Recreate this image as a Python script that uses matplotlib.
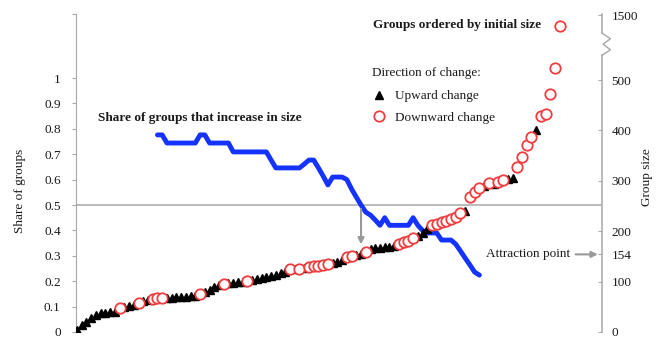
import numpy as np
import matplotlib
matplotlib.use("Agg")
import matplotlib.pyplot as plt
from matplotlib.lines import Line2D

plt.rcParams['font.family'] = ['Liberation Serif', 'DejaVu Serif']

# groups ordered by initial size; U = upward change, D = downward change
group_size = [4, 14, 20, 28, 34, 38, 38, 39, 40,
              48, 50, 52, 54, 58, 61, 63, 66, 67, 68,
              68, 68, 69, 69, 70, 71, 72, 75, 79, 84, 89, 93, 96,
              97, 98, 99, 100, 101, 103, 106, 108, 110, 112, 114, 117, 120,
              125, 125, 126, 127, 128, 130, 131, 132, 134, 136, 139, 143,
              149, 151, 153, 155, 159, 164, 166, 167, 168, 169, 171,
              175, 178, 181, 186, 190, 196, 204,
              212, 215, 218, 221, 224, 228, 236, 241,
              268, 278, 286, 290, 296, 293, 298, 302, 304, 306,
              328, 347, 371, 387, 401, 429, 433, 472, 524, 1240]
direction = ("UUUUUUUUU" "DUUUDUUDDD" "UUUUUUUDUUUUDUUUUD"
             "UUUUUUUUDUDUDDDDDUUUDDUUD" "UUUUUUDDDDUUU"
             "DDDDDDDU" "DDDUDUDDUU" "DDDDUDDDDD")

# share of groups that increase in size (starts at group 17)
share_start = 17
share_increase = [0.776, 0.776, 0.744, 0.744, 0.744, 0.744, 0.744, 0.744, 0.744,
                  0.776, 0.776, 0.744, 0.744, 0.744, 0.744, 0.744,
                  0.709, 0.709, 0.709, 0.709, 0.709, 0.709, 0.709, 0.709,
                  0.677, 0.646, 0.646, 0.646, 0.646, 0.646, 0.646,
                  0.661, 0.677, 0.677, 0.646, 0.614, 0.579, 0.61, 0.61, 0.61,
                  0.6, 0.563, 0.531, 0.5, 0.472, 0.46, 0.441, 0.42, 0.45,
                  0.42, 0.42, 0.42, 0.42, 0.42, 0.45, 0.42, 0.4, 0.39, 0.39, 0.39,
                  0.362, 0.362, 0.362, 0.346, 0.319, 0.291, 0.264, 0.236, 0.224]

left_ticks = [0, 0.1, 0.2, 0.3, 0.4, 0.5, 0.6, 0.7, 0.8, 0.9, 1]
left_labels = ['0', '0.1', '0.2', '0.3', '0.4', '0.5', '0.6', '0.7', '0.8', '0.9', '1']
right_ticks = [0, 100, 154, 200, 300, 400, 500, 1500]
attraction = 154

# broken right axis: linear up to 550, compressed above
BRK = 550.0
K = (629 - 550) / (1500 - 550.0)


def fwd(v):
    v = np.asarray(v, float)
    return np.where(v <= BRK, v, BRK + (v - BRK) * K)


def inv(p):
    p = np.asarray(p, float)
    return np.where(p <= BRK, p, BRK + (p - BRK) / K)


gray = '#a8a8a8'
txt = '#1a1a1a'
fs = 9.5

fig = plt.figure(figsize=(6.6, 3.45), dpi=100)
ax = fig.add_axes([76 / 660, 13 / 345, 526 / 660, 318 / 345])
ax2 = ax.twinx()

idx = np.arange(len(group_size))
size = np.array(group_size, float)
up = np.array([c == 'U' for c in direction])

ax.set_xlim(-0.21, 110.9)
ax.set_ylim(0, 1.252)
ax2.set_yscale('function', functions=(fwd, inv))
ax2.set_ylim(0, float(inv(631)))

# 0.5 reference line and share line
ax.axhline(0.5, color=gray, lw=1.1, zorder=1)
sx = np.arange(share_start, share_start + len(share_increase))
ax.plot(sx, share_increase, color='#1433ff', lw=3.5, solid_joinstyle='round',
        solid_capstyle='round', zorder=2)

# groups
ax2.plot(idx[up], size[up], linestyle='none', marker='^', color='black',
         markersize=6.3, zorder=3)
ax2.plot(idx[~up], size[~up], linestyle='none', marker='o', markerfacecolor='white',
         markeredgecolor='#f03c3c', markeredgewidth=1.3, markersize=7.5, zorder=4)

# spines
for s in ['top', 'right', 'bottom']:
    ax.spines[s].set_visible(False)
for s in ['top', 'left', 'bottom', 'right']:
    ax2.spines[s].set_visible(False)
ax.spines['left'].set_color(gray)
ax.set_xticks([])
ax.set_yticks(left_ticks + [1.252])
ax.set_yticklabels(left_labels + [''])
ax.tick_params(axis='y', direction='out', length=3, color=gray, pad=8,
               labelsize=fs, labelcolor=txt)

ax2.set_yticks(right_ticks)
ax2.set_yticklabels([str(t) for t in right_ticks])
ax2.yaxis.set_minor_locator(plt.NullLocator())
ax2.tick_params(axis='y', direction='in', length=3, color=gray, pad=7,
                labelsize=fs, labelcolor=txt)

# right spine drawn by hand with a break zigzag
y_lo, y_hi = 549 / 631, 593 / 631
h = (y_hi - y_lo) / 4
zx = [1.0, 1.016, 1.002, 1.016, 1.0]
zy = [y_lo, y_lo + h, y_lo + 2 * h, y_lo + 3 * h, y_hi]
ax2.plot([1, 1], [0, y_lo], color=gray, lw=1.1, transform=ax2.transAxes, clip_on=False)
ax2.plot(zx, zy, color=gray, lw=1.0, transform=ax2.transAxes, clip_on=False)
ax2.plot([1, 1], [y_hi, 1], color=gray, lw=1.1, transform=ax2.transAxes, clip_on=False)

# annotations
ax.annotate('', xy=(60, 0.345), xytext=(60, 0.485),
            arrowprops=dict(arrowstyle='-|>', color='#999999', lw=1.5,
                            mutation_scale=9, shrinkA=0, shrinkB=0))
ax2.annotate('Attraction point', xy=(0.992, attraction),
             xycoords=('axes fraction', 'data'), xytext=(-20, 0),
             textcoords='offset points', ha='right', va='center', fontsize=fs,
             color=txt,
             arrowprops=dict(arrowstyle='-|>', color='#999999', lw=1.5,
                             mutation_scale=9, shrinkA=2, shrinkB=0))

fig.text(98 / 660, 1 - 118 / 345, 'Share of groups that increase in size',
         fontsize=fs, fontweight='bold', color=txt, va='center', ha='left')
fig.text(373 / 660, 1 - 25 / 345, 'Groups ordered by initial size',
         fontsize=fs, fontweight='bold', color=txt, va='center', ha='left')
fig.text(20 / 660, 1 - 191 / 345, 'Share of groups', rotation=90,
         fontsize=fs, color=txt, va='center', ha='center')
fig.text(647 / 660, 1 - 177 / 345, 'Group size', rotation=90,
         fontsize=fs, color=txt, va='center', ha='center')

handles = [Line2D([], [], linestyle='none', marker='^', color='black', markersize=6.3),
           Line2D([], [], linestyle='none', marker='o', markerfacecolor='white',
                  markeredgecolor='#f03c3c', markeredgewidth=1.3, markersize=7.5)]
leg = fig.legend(handles, ['Upward change', 'Downward change'],
                 title='Direction of change:', loc='upper left',
                 bbox_to_anchor=(372 / 660, 1 - 67 / 345), frameon=False,
                 fontsize=fs, title_fontsize=fs, alignment='left',
                 handlelength=1.0, handletextpad=0.75, labelspacing=0.72,
                 borderpad=0, borderaxespad=0)
leg._legend_box.sep = 8
for t in leg.get_texts():
    t.set_color(txt)
leg.get_title().set_color(txt)

fig.savefig('out.png', dpi=100)
